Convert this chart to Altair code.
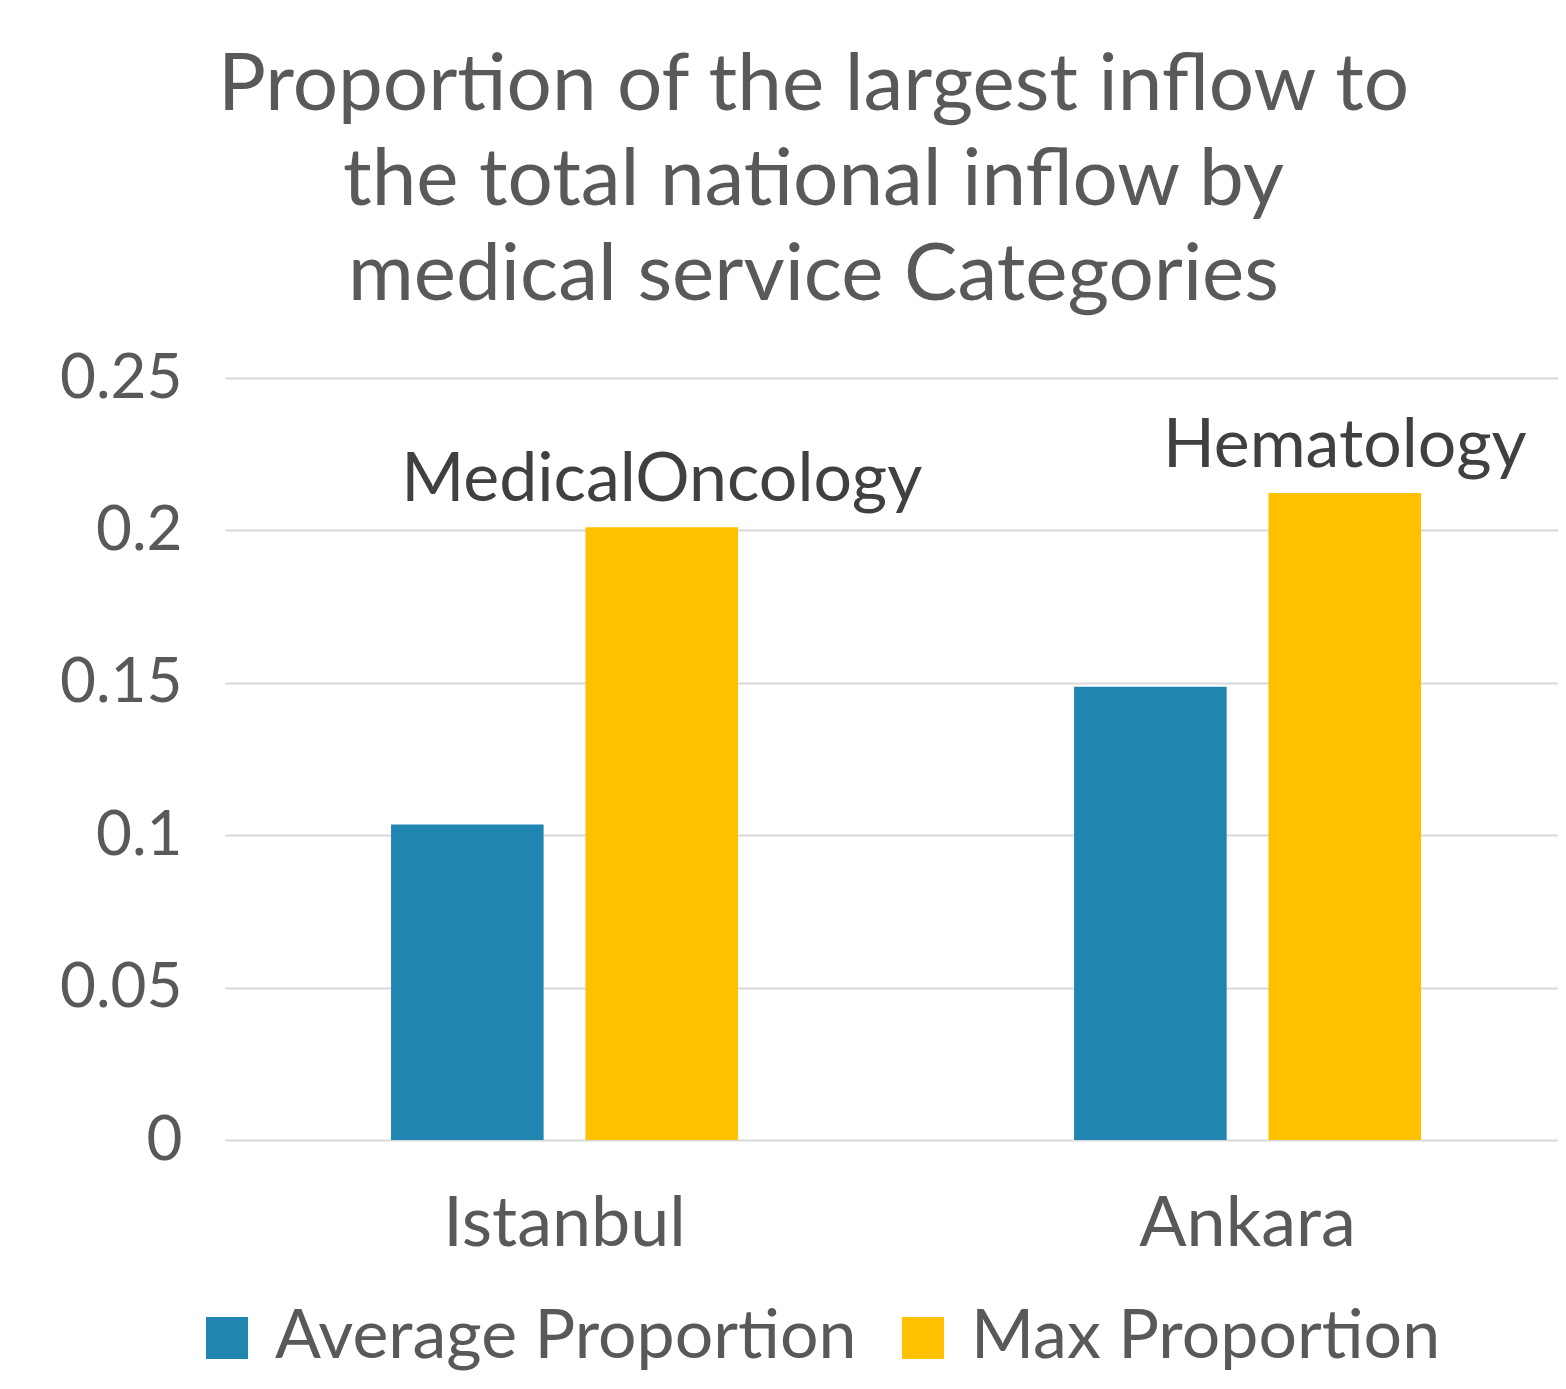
import altair as alt
import pandas as pd

cities = ["Istanbul", "Ankara"]
series = ["Average Proportion", "Max Proportion"]
avg_values = [0.1035, 0.1487]
max_values = [0.201, 0.2123]
top_categories = ["MedicalOncology", "Hematology"]
y_ticks = [0, 0.05, 0.1, 0.15, 0.2, 0.25]
title_lines = ["Proportion of the largest inflow to",
               "the total national inflow by",
               "medical service Categories"]

rows = []
for i, c in enumerate(cities):
    rows.append({"city": c, "series": series[0], "value": avg_values[i], "label": ""})
    rows.append({"city": c, "series": series[1], "value": max_values[i], "label": top_categories[i]})
df = pd.DataFrame(rows)

FONT = "Lato"
GREY = "#595959"

x = alt.X("city:N", sort=cities, title=None,
          scale=alt.Scale(paddingInner=0.492, paddingOuter=0.2218, align=0.548),
          axis=alt.Axis(labelAngle=0, labelFontSize=70, labelFont=FONT, labelColor=GREY,
                        labelPadding=50, labelLimit=1000, domain=False, ticks=False,
                        grid=False))
xo = alt.XOffset("series:N", sort=series,
                 scale=alt.Scale(paddingInner=0.215, paddingOuter=0))
y = alt.Y("value:Q", title=None,
          scale=alt.Scale(domain=[0, 0.25], nice=False),
          axis=alt.Axis(values=y_ticks, format="~g", labelFontSize=62, labelFont=FONT,
                        labelColor=GREY, labelPadding=43, domain=False, ticks=False,
                        gridColor="#d9d9d9", gridWidth=2))

bars = alt.Chart(df).mark_bar().encode(
    x=x, xOffset=xo, y=y,
    color=alt.Color("series:N", sort=series,
                    scale=alt.Scale(domain=series, range=["#2086B1", "#FFC000"]),
                    legend=alt.Legend(title=None, orient="none", direction="horizontal",
                                      legendX=-32, legendY=926,
                                      symbolType="square", symbolSize=1764,
                                      symbolStrokeWidth=0, labelFontSize=68,
                                      labelFont=FONT, labelColor=GREY,
                                      labelOffset=14, columnPadding=32,
                                      labelLimit=1000))
)

labels = alt.Chart(df).mark_text(fontSize=68, font=FONT, color="#404040",
                                 baseline="alphabetic", dy=-26).encode(
    x=x, xOffset=xo, y=y, text="label:N"
)

chart = alt.layer(bars, labels).properties(
    width=1333, height=762,
    title=alt.TitleParams(text=title_lines, fontSize=80, font=FONT, color=GREY,
                          fontWeight="normal", lineHeight=95, anchor="middle",
                          dx=-78, offset=30),
    autosize=alt.AutoSizeParams(type="none"),
    padding={"left": 217, "top": 370, "right": 0, "bottom": 241},
).configure_view(stroke=None)

chart.save("out.html", embed_options={"renderer": "svg", "actions": False})
